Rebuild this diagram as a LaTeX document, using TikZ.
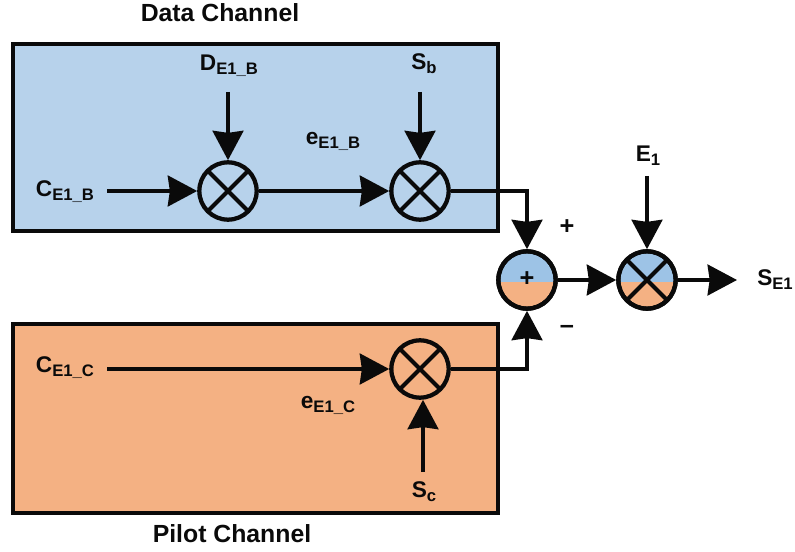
\documentclass[tikz,border=0pt]{standalone}
\usepackage{fontspec}
\setmainfont{Liberation Sans}
\usetikzlibrary{arrows.meta,calc}
\definecolor{boxblue}{HTML}{B7D2EB}
\definecolor{boxorange}{HTML}{F4B183}
\definecolor{halfblue}{HTML}{9DC3E6}
\definecolor{ink}{HTML}{0A0A0A}
\newcommand{\lab}[2]{\textbf{#1}\raisebox{-3pt}{\fontsize{12.5pt}{12.5pt}\selectfont\textbf{#2}}}
\tikzset{
  x=0.75pt,y=-0.75pt,
  panel/.style={draw=ink,line width=2.4pt,inner sep=0pt},
  wire/.style={draw=ink,line width=3pt},
  arrowwire/.style={wire,-{Stealth[length=22pt,width=23pt,inset=1.5pt]}},
  junction/.style={circle,draw=ink,line width=3.2pt,minimum size=43pt,inner sep=0pt},
  halved/.style={path picture={
    \fill[halfblue] (path picture bounding box.north west) rectangle ([yshift=-1.2pt]path picture bounding box.east);
    \fill[boxorange] ([yshift=-1.2pt]path picture bounding box.west) rectangle (path picture bounding box.south east);}},
  crossed/.style={path picture={
    \draw[ink,line width=3pt] (path picture bounding box.north west) -- (path picture bounding box.south east);
    \draw[ink,line width=3pt] (path picture bounding box.north east) -- (path picture bounding box.south west);}},
  txt/.style={text=ink,inner sep=0pt,font=\fontsize{17pt}{17pt}\selectfont},
  title/.style={text=ink,inner sep=0pt,font=\fontsize{18.6pt}{18.6pt}\selectfont\bfseries},
  sign/.style={text=ink,inner sep=0pt,font=\fontsize{19pt}{19pt}\selectfont\bfseries}
}
\begin{document}
\begin{tikzpicture}
\useasboundingbox (0,0) rectangle (795,552);
% panels
\path[panel,fill=boxblue] (13,44) rectangle (498,231);
\path[panel,fill=boxorange] (13,324) rectangle (498,513);
% titles
\node[title] (tdata) at (220,13) {Data Channel};
\node[title] (tpilot) at (232,534) {Pilot Channel};
% junctions
\node[junction,crossed] (m1) at (228,191) {};
\node[junction,crossed] (m2) at (420,191) {};
\node[junction,crossed] (m3) at (420,369) {};
\node[junction,halved] (sum) at (527,280) {};
\node[junction,halved] (m4) at (647,280) {};
\draw[ink,line width=3pt] ($(m4)+(-21,-21)$) -- ($(m4)+(21,21)$);
\draw[ink,line width=3pt] ($(m4)+(21,-21)$) -- ($(m4)+(-21,21)$);
\node[junction] at (sum) {};
\node[junction] at (m4) {};
\node[sign] (plus) at (527,279) {+};
% labels
\node[txt] (cb) at (65,192) {\lab{C}{E1\_B}};
\node[txt] (db) at (229,66) {\lab{D}{E1\_B}};
\node[txt] (sb) at (424,64) {\lab{S}{b}};
\node[txt] (eb) at (333,141) {\lab{e}{E1\_B}};
\node[txt] (e1) at (648,156) {\lab{E}{1}};
\node[txt] (se) at (775,280) {\lab{S}{E1}};
\node[txt] (cc) at (65,368) {\lab{C}{E1\_C}};
\node[txt] (ec) at (328,405) {\lab{e}{E1\_C}};
\node[txt] (sc) at (424,492) {\lab{S}{c}};
\node[sign] (pp) at (567,227) {+};
\node[sign] (mm) at (567,329) {--};
% free ends
\coordinate (a) at (107,191);
\coordinate (b) at (228,92);
\coordinate (c) at (420,92);
\coordinate (d) at (107,369);
\coordinate (f) at (423,472);
\coordinate (g) at (647,176);
\coordinate (h) at (737,280);
% connectors
\draw[arrowwire] (a) -- (m1.west);
\draw[arrowwire] (b) -- (m1.north);
\draw[arrowwire] (m1.east) -- (m2.west);
\draw[arrowwire] (c) -- (m2.north);
\draw[arrowwire] (m2.east) -| (sum.north);
\draw[arrowwire] (d) -- (m3.west);
\draw[arrowwire] (f) -- (f |- m3.south);
\draw[arrowwire] (m3.east) -| (sum.south);
\draw[arrowwire] (sum.east) -- (m4.west);
\draw[arrowwire] (g) -- (m4.north);
\draw[arrowwire] (m4.east) -- (h);
\end{tikzpicture}
\end{document}
